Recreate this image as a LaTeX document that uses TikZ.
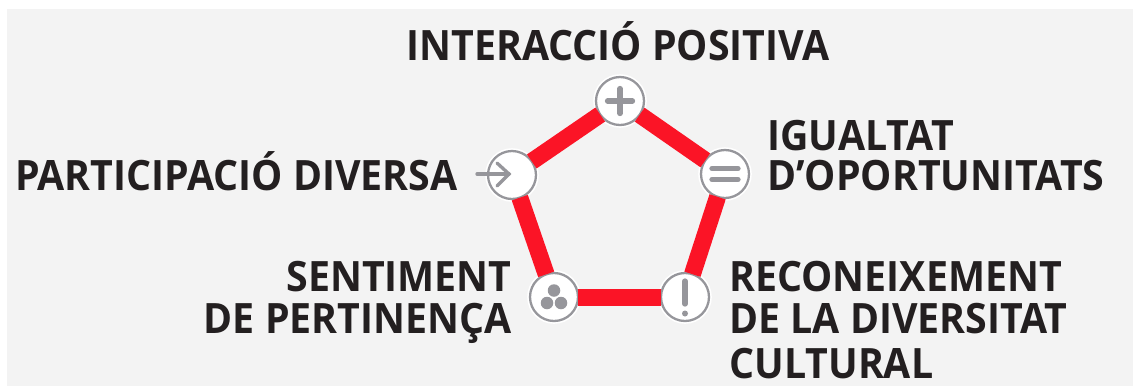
\documentclass[tikz,border=0pt]{standalone}
\usepackage{fontspec}
\newfontfamily\labfont[FakeStretch=0.94]{Open Sans}
\definecolor{bgcol}{HTML}{F3F3F3}
\definecolor{linkcol}{HTML}{FB1426}
\definecolor{ringcol}{HTML}{96969B}
\definecolor{inkcol}{HTML}{231F20}
\tikzset{
  main/.style = {circle, fill=white, draw=ringcol, line width=1.3pt, minimum size=0.96cm, inner sep=0pt, outer sep=0pt,
    preaction={draw=white, line width=3.2pt}},
  link/.style = {draw=linkcol, line width=0.34cm},
  lab/.style = {font=\labfont\bfseries\fontsize{23.8}{23.8}\selectfont\color{inkcol}, inner sep=0pt, align=left},
  icon/.style = {draw=ringcol, line width=3pt, line cap=round},
  thin icon/.style = {icon, line width=1.9pt},
  dot/.style = {fill=ringcol, draw=none},
}
\begin{document}
\begin{tikzpicture}[x=0.02cm, y=-0.02cm]
  \useasboundingbox (0,0) rectangle (1133,387);
  \fill[white] (0,0) rectangle (1133,387);
  \fill[bgcol] (7,9) rectangle (1133,386);

  \node[main] (plus)   at (620,101) {};
  \node[main] (equal)  at (725,174) {};
  \node[main] (excl)   at (685,297) {};
  \node[main] (group)  at (554,297) {};
  \node[main] (part)   at (512,175) {};

  \draw[link] (plus) -- (equal);
  \draw[link] (equal) -- (excl);
  \draw[link] (excl) -- (group);
  \draw[link] (group) -- (part);
  \draw[link] (part) -- (plus);

  \node[lab, anchor=base]       (t1) at (618,60)  {INTERACCIÓ POSITIVA};
  \node[lab, anchor=base west]  (t2) at (767,150) {IGUALTAT};
  \node[lab, anchor=base west]  (t3) at (767,190) {D’OPORTUNITATS};
  \node[lab, anchor=base east]  (t4) at (458,190) {PARTICIPACIÓ DIVERSA};
  \node[lab, anchor=base east]  (t5) at (512,291) {SENTIMENT};
  \node[lab, anchor=base east]  (t6) at (512,333) {DE PERTINENÇA};
  \node[lab, anchor=base west]  (t7) at (729,291) {RECONEIXEMENT};
  \node[lab, anchor=base west]  (t8) at (729,333) {DE LA DIVERSITAT};
  \node[lab, anchor=base west]  (t9) at (729,378) {CULTURAL};

  % icons
  \draw[icon] ([xshift=-0.25cm]plus.center) -- ([xshift=0.25cm]plus.center);
  \draw[icon] ([yshift=-0.25cm]plus.center) -- ([yshift=0.25cm]plus.center);
  \draw[icon] ([xshift=-0.26cm,yshift=0.11cm]equal.center) -- ([xshift=0.26cm,yshift=0.11cm]equal.center);
  \draw[icon] ([xshift=-0.26cm,yshift=-0.11cm]equal.center) -- ([xshift=0.26cm,yshift=-0.11cm]equal.center);
  \draw[icon] ([yshift=0.32cm]excl.center) -- ([yshift=-0.14cm]excl.center);
  \fill[dot] ([yshift=-0.33cm]excl.center) circle (0.06cm);
  \fill[dot] ([yshift=0.13cm]group.center) circle (0.125cm);
  \fill[dot] ([xshift=-0.14cm,yshift=-0.12cm]group.center) circle (0.125cm);
  \fill[dot] ([xshift=0.14cm,yshift=-0.12cm]group.center) circle (0.125cm);
  \coordinate (arrowtail) at (477,174);
  \coordinate (arrowhead) at (509,174);
  \draw[thin icon] (arrowtail) -- (arrowhead);
  \draw[thin icon] (497,163) -- (arrowhead) -- (497,186);
\end{tikzpicture}
\end{document}
